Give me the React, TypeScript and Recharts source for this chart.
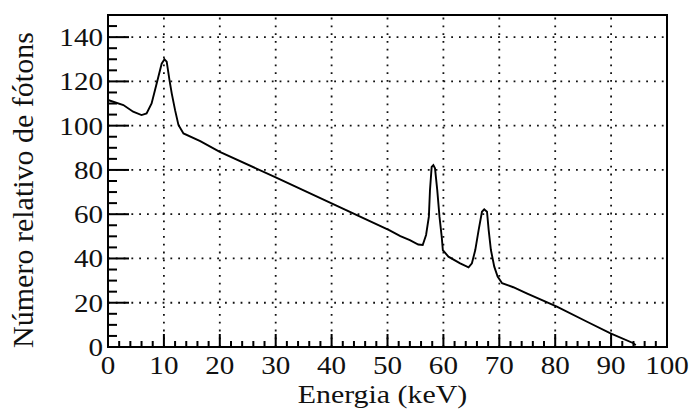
import React from "react";
import {
  LineChart,
  Line,
  XAxis,
  YAxis,
  ReferenceLine,
  ReferenceArea,
  Label,
} from "recharts";

// Energy (keV) sampled along the spectrum
const energy = [
  0, 2.75, 4.5, 6.0, 6.9, 7.8, 8.4, 9.0, 9.6, 10.1, 10.5, 11.0, 11.4, 12.0,
  12.6, 13.5, 16.5, 20, 30, 40, 50.3, 52.3, 54, 55.5, 56.3, 56.9, 57.4, 57.6,
  57.9, 58.2, 58.5, 58.9, 59.3, 59.7, 59.9, 60.9, 63, 64.5, 65.1, 65.7, 66.3,
  66.9, 67.3, 67.8, 68.1, 68.5, 69.1, 69.7, 70.5, 72.5, 74.9, 80.3, 85.7, 89.9,
  94.0, 94.4,
];
// Relative number of photons
const photons = [
  111.6, 109.3, 106.3, 104.8, 105.5, 110, 116, 122, 128, 130, 128.9, 120.6,
  114.6, 107, 100.3, 96.5, 93, 88.2, 76.6, 64.9, 52.8, 50.1, 48.3, 46.3, 46.1,
  50.6, 58.9, 70.9, 81.4, 82.2, 80.7, 70.9, 58.9, 49.8, 43.8, 40.8, 37.8, 36,
  37.8, 43.8, 52.8, 61.1, 62.2, 61.1, 52.8, 43.8, 36.3, 31.8, 28.8, 27, 24.2,
  18.2, 11.4, 6.2, 1.7, 0.8,
];

const xMajorTicks = [0, 10, 20, 30, 40, 50, 60, 70, 80, 90, 100];
const yMajorTicks = [0, 20, 40, 60, 80, 100, 120, 140];
const xMinorTicks = [
  2, 4, 6, 8, 12, 14, 16, 18, 22, 24, 26, 28, 32, 34, 36, 38, 42, 44, 46, 48,
  52, 54, 56, 58, 62, 64, 66, 68, 72, 74, 76, 78, 82, 84, 86, 88, 92, 94, 96, 98,
];
const yMinorTicks = [
  5, 10, 15, 25, 30, 35, 45, 50, 55, 65, 70, 75, 85, 90, 95, 105, 110, 115, 125,
  130, 135, 145,
];
const xGridValues = [10, 20, 30, 40, 50, 60, 70, 80, 90];
const yGridValues = [20, 40, 60, 80, 100, 120, 140];
const xDomain = [0, 100];
const yDomain = [0, 150];

const xAllTicks = [...xMajorTicks, ...xMinorTicks].sort((a, b) => a - b);
const yAllTicks = [...yMajorTicks, ...yMinorTicks].sort((a, b) => a - b);

const xLabel = "Energia (keV)";
const yLabel = "Número relativo de fótons";

const data = energy.map((e, i) => ({ e, n: photons[i] }));

const FONT = "Liberation Serif";
const FONT_CSS = "'Liberation Serif', 'Times New Roman', serif";
const textStyle = { fontFamily: FONT_CSS };
const SX = 1.12;
const INK = "#111";

function YTick(props: any) {
  const { x, y, payload } = props;
  const v = payload.value;
  const major = yMajorTicks.indexOf(v) >= 0;
  const len = major ? 21 : 9;
  const inside = v > yDomain[0] && v < yDomain[1];
  return (
    <g>
      {inside ? (
        <line x1={x} x2={x + len} y1={y} y2={y} stroke="#000" strokeWidth={2} />
      ) : null}
      {major ? (
        <text
          transform={`translate(${x - 5},${y}) scale(${SX},1)`}
          textAnchor="end"
          dy="0.34em"
          fontFamily={FONT}
          style={textStyle}
          fontSize={26}
          fill={INK}
        >
          {v}
        </text>
      ) : null}
    </g>
  );
}

function XTick(props: any) {
  const { x, y, payload } = props;
  const v = payload.value;
  const major = xMajorTicks.indexOf(v) >= 0;
  const len = major ? 13 : 6;
  const inside = v > xDomain[0] && v < xDomain[1];
  return (
    <g>
      {inside ? (
        <line x1={x} x2={x} y1={y} y2={y - len} stroke="#000" strokeWidth={2} />
      ) : null}
      {major ? (
        <text
          transform={`translate(${x},${y + 27}) scale(${SX},1)`}
          textAnchor="middle"
          fontFamily={FONT}
          style={textStyle}
          fontSize={26}
          fill={INK}
        >
          {v}
        </text>
      ) : null}
    </g>
  );
}

function XAxisLabel(props: any) {
  const vb = props.viewBox || {};
  return (
    <text
      transform={`translate(${vb.x + vb.width / 2 - 5},${vb.y + 56}) scale(1.15,1)`}
      textAnchor="middle"
      fontFamily={FONT}
      style={textStyle}
      fontSize={26}
      fill={INK}
    >
      {xLabel}
    </text>
  );
}

function YAxisLabel(props: any) {
  const vb = props.viewBox || {};
  return (
    <text
      transform={`translate(${vb.x + 33},${vb.y + vb.height / 2 + 9}) rotate(-90)`}
      textAnchor="middle"
      fontFamily={FONT}
      style={textStyle}
      fontSize={30}
      fill={INK}
    >
      {yLabel}
    </text>
  );
}

export default function App() {
  return (
    <div
      style={{
        position: "absolute",
        left: 0,
        top: 0,
        background: "#fff",
        fontFamily: FONT_CSS,
      }}
    >
      <LineChart
        width={692}
        height={412}
        data={data}
        margin={{ top: 15, right: 25, left: 0, bottom: 0 }}
      >
        {xGridValues.map((v) => (
          <ReferenceLine key={"gx" + v} x={v} stroke="#111" strokeWidth={1.8} strokeDasharray="1.8 6" />
        ))}
        {yGridValues.map((v) => (
          <ReferenceLine key={"gy" + v} y={v} stroke="#111" strokeWidth={1.8} strokeDasharray="1.8 6" />
        ))}
        <ReferenceArea x1={0} x2={100} y1={0} y2={150} fill="none" stroke="#000" strokeWidth={2} />
        <XAxis
          dataKey="e"
          type="number"
          domain={xDomain}
          ticks={xAllTicks}
          interval={0}
          tickSize={0}
          tickMargin={0}
          tickLine={false}
          tick={<XTick />}
          height={65}
          axisLine={{ stroke: "#000", strokeWidth: 2 }}
        >
          <Label content={<XAxisLabel />} />
        </XAxis>
        <YAxis
          type="number"
          domain={yDomain}
          ticks={yAllTicks}
          interval={0}
          tickSize={0}
          tickMargin={0}
          tickLine={false}
          tick={<YTick />}
          width={108}
          axisLine={{ stroke: "#000", strokeWidth: 2 }}
        >
          <Label content={<YAxisLabel />} />
        </YAxis>
        <Line type="linear" dataKey="n" stroke="#000" strokeWidth={1.9} dot={false} isAnimationActive={false} />
      </LineChart>
    </div>
  );
}
